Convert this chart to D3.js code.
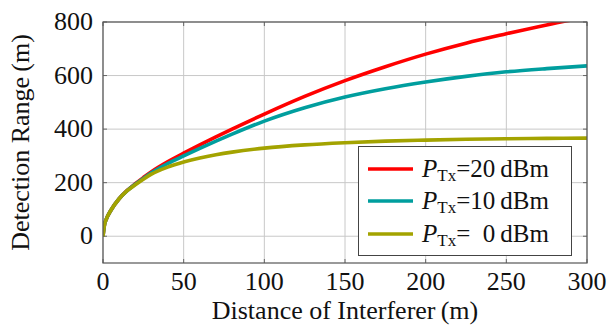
<!DOCTYPE html>
<html>
<head>
<meta charset="utf-8">
<script src="https://cdn.jsdelivr.net/npm/d3@7"></script>
<style>
  body { margin: 0; background: #fff; }
  text { font-family: "Liberation Serif", "DejaVu Serif", serif; fill: #111; }
</style>
</head>
<body>
<svg id="chart" width="607" height="328"></svg>
<script>
// distance of interferer (m)
var distance = [0, 1, 2, 5, 10, 15, 20, 25, 30, 40, 50, 60, 70, 80, 100, 125, 150, 175, 200, 225, 250, 275, 300];
// detection range (m) per transmit power
var range20 = [0, 45, 63, 98, 140, 171, 196, 219, 241, 278, 310, 341, 371, 400, 456, 522, 581, 633, 680, 721, 756, 789, 819];
var range10 = [0, 45, 63, 98, 140, 170, 194, 216, 237, 271, 300, 328, 355, 381, 430, 480, 520, 551, 576, 597, 614, 626, 636];
var range0  = [0, 45, 63, 98, 140, 170, 192, 213, 232, 258, 277, 292, 304, 314, 329, 341, 349, 355, 359, 362, 364, 365.5, 366.5];

var seriesNames = ["20", "10", "0"];
var seriesColors = ["#ff0000", "#009e9e", "#a3a300"];
var xTicks = [0, 50, 100, 150, 200, 250, 300];
var yTicks = [0, 200, 400, 600, 800];

var svg = d3.select("#chart");
var plotL = 103, plotR = 587, plotT = 22, plotB = 263;

var x = d3.scaleLinear().domain([0, 300]).range([plotL, plotR]);
var y = d3.scaleLinear().domain([-100, 800]).range([plotB, plotT]);

// grid
svg.append("g")
  .selectAll("line")
  .data(xTicks)
  .enter().append("line")
  .attr("x1", d => x(d)).attr("x2", d => x(d))
  .attr("y1", plotT).attr("y2", plotB)
  .attr("stroke", "#c8c8c8").attr("stroke-width", 1);

svg.append("g")
  .selectAll("line")
  .data(yTicks)
  .enter().append("line")
  .attr("x1", plotL).attr("x2", plotR)
  .attr("y1", d => y(d)).attr("y2", d => y(d))
  .attr("stroke", "#c8c8c8").attr("stroke-width", 1);

// ticks inside on all four sides
var tk = 4;
var ticks = svg.append("g").attr("stroke", "#666").attr("stroke-width", 1);
xTicks.forEach(function(t) {
  ticks.append("line").attr("x1", x(t)).attr("x2", x(t)).attr("y1", plotB).attr("y2", plotB - tk);
  ticks.append("line").attr("x1", x(t)).attr("x2", x(t)).attr("y1", plotT).attr("y2", plotT + tk);
});
yTicks.forEach(function(t) {
  ticks.append("line").attr("x1", plotL).attr("x2", plotL + tk).attr("y1", y(t)).attr("y2", y(t));
  ticks.append("line").attr("x1", plotR).attr("x2", plotR - tk).attr("y1", y(t)).attr("y2", y(t));
});

// tick labels
svg.append("g")
  .selectAll("text")
  .data(xTicks)
  .enter().append("text")
  .attr("x", d => x(d))
  .attr("y", 290)
  .attr("text-anchor", "middle")
  .style("font-size", "26px")
  .text(d => d);

svg.append("g")
  .selectAll("text")
  .data(yTicks)
  .enter().append("text")
  .attr("x", 93)
  .attr("y", d => y(d) + 8)
  .attr("text-anchor", "end")
  .style("font-size", "26px")
  .text(d => d);

// axis titles
svg.append("text")
  .attr("x", (plotL + plotR) / 2)
  .attr("y", 319)
  .attr("text-anchor", "middle")
  .style("font-size", "26px")
  .text("Distance of Interferer\u2009(m)");

svg.append("text")
  .attr("transform", "rotate(-90)")
  .attr("x", -(plotT + plotB) / 2)
  .attr("y", 29)
  .attr("text-anchor", "middle")
  .style("font-size", "26px")
  .text("Detection Range\u2009(m)");

// curves
svg.append("clipPath").attr("id", "plotclip")
  .append("rect")
  .attr("x", plotL).attr("y", plotT)
  .attr("width", plotR - plotL).attr("height", plotB - plotT);

var line = d3.line()
  .x((d, i) => x(distance[i]))
  .y(d => y(d))
  .curve(d3.curveMonotoneX);

var allRanges = [range20, range10, range0];
svg.append("g")
  .attr("clip-path", "url(#plotclip)")
  .selectAll("path")
  .data(allRanges)
  .enter().append("path")
  .attr("d", d => line(d))
  .attr("fill", "none")
  .attr("stroke", (d, i) => seriesColors[i])
  .attr("stroke-width", 3.6);

// frame
svg.append("rect")
  .attr("x", plotL).attr("y", plotT)
  .attr("width", plotR - plotL).attr("height", plotB - plotT)
  .attr("fill", "none").attr("stroke", "#555").attr("stroke-width", 1.2);

// legend
var lg = svg.append("g");
lg.append("rect")
  .attr("x", 358.5).attr("y", 146.5)
  .attr("width", 213).attr("height", 109)
  .attr("fill", "#fff").attr("stroke", "#444").attr("stroke-width", 1);

var rowY = [169, 201, 234];
seriesNames.forEach(function(name, i) {
  lg.append("line")
    .attr("x1", 368).attr("x2", 413)
    .attr("y1", rowY[i]).attr("y2", rowY[i])
    .attr("stroke", seriesColors[i]).attr("stroke-width", 3.6);
  var t = lg.append("text")
    .attr("x", 422).attr("y", rowY[i] + 8)
    .style("font-size", "25px");
  t.append("tspan").style("font-style", "italic").text("P");
  t.append("tspan").attr("dy", 4).style("font-size", "17px").text("Tx");
  t.append("tspan").attr("dy", -4).text("=");
  if (name.length < 2) {
    t.append("tspan").attr("dx", 12.5).text(name + "\u2009dBm");
  } else {
    t.append("tspan").text(name + "\u2009dBm");
  }
});
</script>
</body>
</html>
